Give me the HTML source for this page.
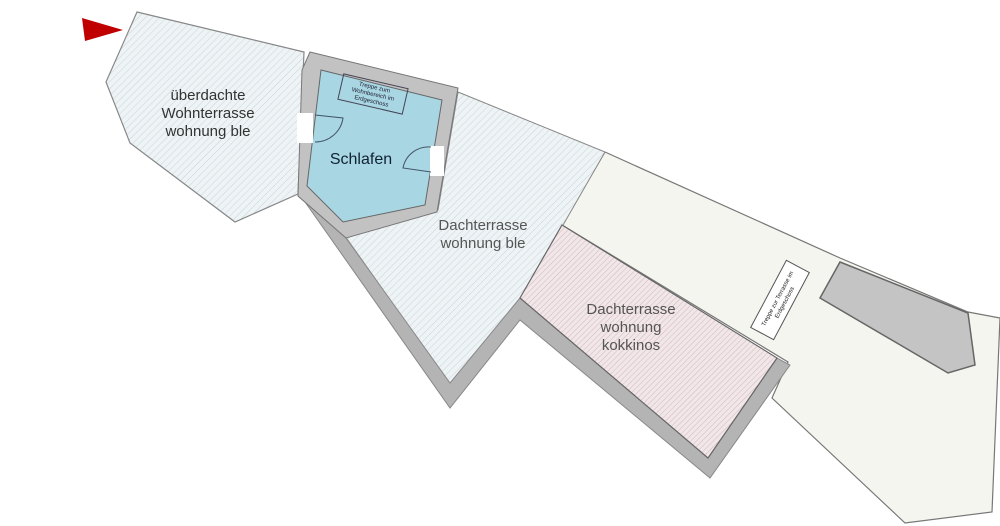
<!DOCTYPE html>
<html><head><meta charset="utf-8"><style>body{margin:0;background:#fff}svg{display:block}</style></head><body>
<svg width="1000" height="526" viewBox="0 0 1000 526" xmlns="http://www.w3.org/2000/svg" font-family="'Liberation Sans',sans-serif">
<defs>
<pattern id="hb" width="5" height="5" patternUnits="userSpaceOnUse" patternTransform="rotate(45)"><rect width="5" height="5" fill="#eef3f5"/><line x1="0" y1="0" x2="0" y2="5" stroke="#c9d5da" stroke-width="1"/></pattern>
<pattern id="hp" width="4" height="4" patternUnits="userSpaceOnUse" patternTransform="rotate(45)"><rect width="4" height="4" fill="#f1e6e8"/><line x1="0" y1="0" x2="0" y2="4" stroke="#d2b9bd" stroke-width="1"/></pattern>
</defs>
<polygon points="82,18 123,30 85,41" fill="#c00000"/>
<polygon points="605,152 840,258 968,312 1000,318 992,512 905,523 772,398 788,362 562,225" fill="#f5f5ef" stroke="#777" stroke-width="1.2"/>
<polygon points="840,262 968,313 975,365 948,373 820,298" fill="#c4c4c4" stroke="#666" stroke-width="1.5"/>
<polygon points="137,12 304,52 298,194 235,222 130,143 106,82" fill="url(#hb)" stroke="#888" stroke-width="1.2"/>
<polygon points="458,92 605,152 520,300 450,385 345,236 438,210" fill="url(#hb)" stroke="#888" stroke-width="1"/>
<polygon points="298,192 450,408 520,320 710,478 790,365 777,358 708,458 520,298 450,383 346,238 298,196" fill="#b4b4b4" stroke="#888" stroke-width="1"/>
<polygon points="562,225 777,358 708,458 520,298" fill="url(#hp)" stroke="#666" stroke-width="1.2"/>
<polygon points="310,52 458,88 437,212 346,238 298,196 302,70" fill="#c2c2c2" stroke="#777" stroke-width="1"/>
<polygon points="321,70 442,100 425,205 343,222 307,186" fill="#a8d6e3" stroke="#666" stroke-width="1"/>
<rect x="297" y="113" width="16" height="30" fill="#fff"/>
<rect x="430" y="146" width="14" height="30" fill="#fff"/>
<path d="M315,115 L343,118 A28,28 0 0 1 315,142" fill="none" stroke="#456" stroke-width="1"/>
<path d="M431,147 A26,26 0 0 0 403,168 L431,172" fill="none" stroke="#456" stroke-width="1"/>
<g transform="translate(373,94) rotate(13)"><rect x="-33" y="-13" width="66" height="26" fill="none" stroke="#445" stroke-width="1"/>
<text font-size="6" text-anchor="middle" fill="#223"><tspan x="0" y="-5">Treppe zum</tspan><tspan x="0" y="2">Wohnbereich im</tspan><tspan x="0" y="9">Erdgeschoss</tspan></text></g>
<g transform="translate(780,300) rotate(-62)"><rect x="-38" y="-13" width="76" height="26" fill="#fff" stroke="#555" stroke-width="1"/>
<text font-size="6" text-anchor="middle" fill="#222"><tspan x="0" y="-1">Treppe zur Terrasse im</tspan><tspan x="0" y="7">Erdgeschoss</tspan></text></g>
<g font-size="15" fill="#333" text-anchor="middle">
<text x="208" y="100">überdachte</text><text x="208" y="118">Wohnterrasse</text><text x="208" y="136">wohnung ble</text>
<text x="361" y="164" font-size="16" fill="#123">Schlafen</text>
<text x="483" y="230" fill="#555">Dachterrasse</text><text x="483" y="248" fill="#555">wohnung ble</text>
<text x="631" y="314" fill="#555">Dachterrasse</text><text x="631" y="332" fill="#555">wohnung</text><text x="631" y="350" fill="#555">kokkinos</text>
</g>
</svg>
</body></html>
